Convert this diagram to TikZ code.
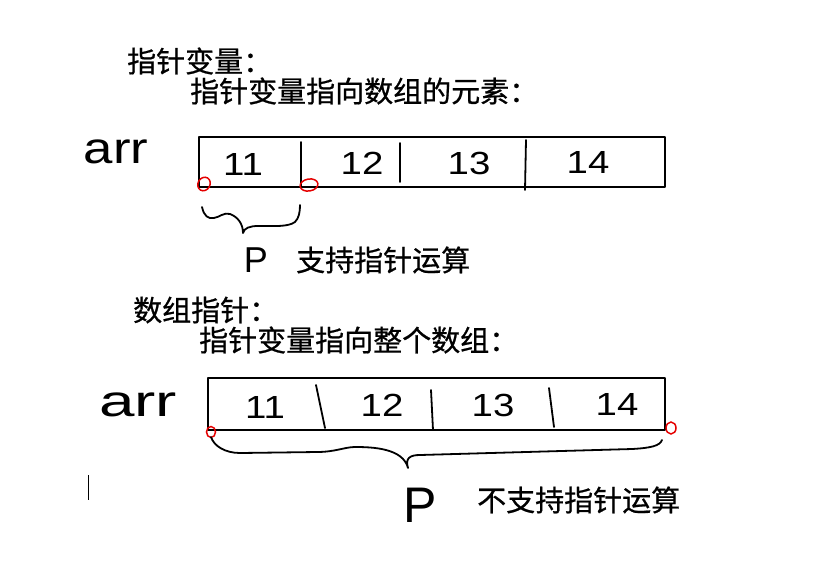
\documentclass[tikz,border=0pt]{standalone}
\usepackage{fontspec}
\newfontfamily\cjk[FakeBold=0.7]{Noto Sans CJK SC}
\newfontfamily\hand{Liberation Sans}
\begin{document}
\begin{tikzpicture}[x=1pt,y=-1pt,
  cjktext/.style={inner sep=0pt,anchor=west,font=\cjk\fontsize{29}{29}\selectfont},
  digit/.style={inner sep=0pt,font=\hand\fontsize{32}{32}\selectfont},
  arrtext/.style={inner sep=0pt,font=\hand\fontsize{44}{44}\selectfont},
  stroke/.style={line width=1.8pt,line cap=round,line join=round},
  redmark/.style={draw=red!90!black,line width=1.5pt},
  cellbox/.style={draw,line width=1.8pt,inner sep=0pt}]
\useasboundingbox[fill=white] (0,0) rectangle (826,573);

% headings
\node[cjktext] (h1) at (127,61) {指针变量：};
\node[cjktext] (h2) at (190,91) {指针变量指向数组的元素：};
\node[cjktext] (h3) at (133,310) {数组指针：};
\node[cjktext] (h4) at (199,340) {指针变量指向整个数组：};

% top array
\node[arrtext,xscale=1.2] (arr1) at (116,152) {arr};
\coordinate (b1nw) at (199,137);
\coordinate (b1se) at (665,187);
\draw[stroke] (b1nw) rectangle (b1se);
\draw[stroke] (301,142) -- (301,186);
\draw[stroke] (400,143) -- (400,182);
\draw[stroke] (526,140) -- (525,190);
\node[digit,xscale=1.2] (t11) at (243,164) {11};
\node[digit,xscale=1.2] (t12) at (362,163) {12};
\node[digit,xscale=1.2] (t13) at (469,163) {13};
\node[digit,xscale=1.2] (t14) at (588,162) {14};
\draw[redmark,rotate around={60:(204,184)}] (204,184) ellipse [x radius=7,y radius=6];
\draw[redmark,rotate around={10:(309,185)}] (309,185) ellipse [x radius=9,y radius=6];
\draw[stroke] (202,207) .. controls (204,216) and (208,219) .. (214,218)
  .. controls (220,217) and (224,212) .. (230,214)
  .. controls (238,217) and (243,224) .. (243,233)
  .. controls (244,228) and (250,226) .. (258,226)
  .. controls (275,226) and (288,227) .. (295,222)
  .. controls (299,218) and (300,212) .. (300,205);
\node[digit,font=\hand\fontsize{36}{36}\selectfont] (p1) at (256,260) {P};
\node[cjktext] (t1) at (296,260) {支持指针运算};

% bottom array
\node[arrtext,xscale=1.45] (arr2) at (138,405) {arr};
\coordinate (b2nw) at (208,378);
\coordinate (b2se) at (665,430);
\draw[stroke] (b2nw) rectangle (b2se);
\draw[stroke] (316,385) -- (325,428);
\draw[stroke] (431,390) -- (433,430);
\draw[stroke] (549,388) -- (554,427);
\node[digit,xscale=1.2] (u11) at (265,407) {11};
\node[digit,xscale=1.2] (u12) at (382,405) {12};
\node[digit,xscale=1.2] (u13) at (493,405) {13};
\node[digit,xscale=1.2] (u14) at (617,404) {14};
\draw[redmark] (211,432) ellipse [x radius=4.5,y radius=5.5];
\draw[redmark] (671,428) ellipse [x radius=5,y radius=6];
\draw[stroke] (211,437) .. controls (214,446) and (225,453) .. (240,453)
  -- (317,452) .. controls (335,452) and (345,447) .. (355,447)
  .. controls (372,447) and (403,448) .. (408,468)
  .. controls (405,458) and (410,455) .. (420,455)
  -- (632,449) .. controls (650,448) and (660,446) .. (662,440);
\node[digit,font=\hand\fontsize{50}{50}\selectfont] (p2) at (420,505) {P};
\node[cjktext] (t2) at (477,500) {不支持指针运算};

% cursor
\draw[line width=1pt] (88,475) -- (88,500);
\end{tikzpicture}
\end{document}
